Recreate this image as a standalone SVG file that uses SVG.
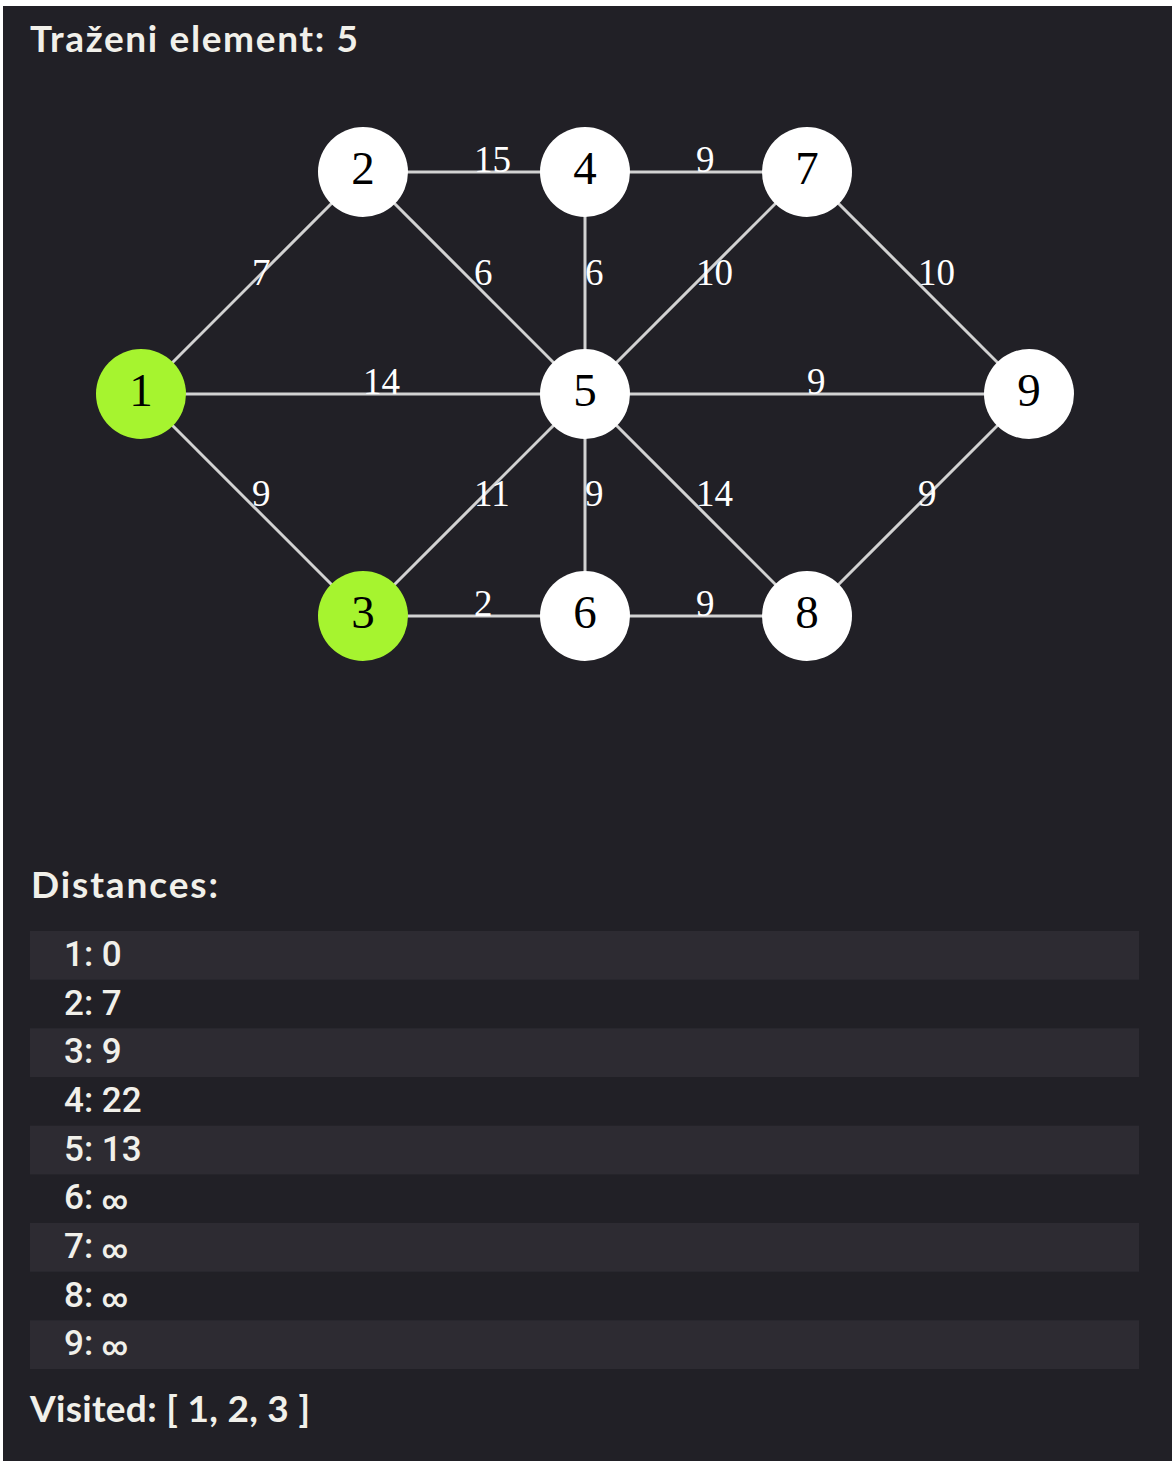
<svg xmlns="http://www.w3.org/2000/svg" width="1172" height="1461" viewBox="0 0 1172 1461">
  <style>
    .bg { fill: #212026; }
    .stripe { fill: #2d2b32; }
    .edge { stroke: #d2d2d2; stroke-width: 3; fill: none; }
    .node { fill: #ffffff; }
    .node.visited { fill: #a6f42f; }
    .nlabel { font-family: "Liberation Serif", "Times New Roman", serif; font-size: 47px; fill: #000000; text-anchor: middle; }
    .elabel { font-family: "Liberation Serif", "Times New Roman", serif; font-size: 37px; fill: #ffffff; }
    .head { font-family: "Lato", "Noto Sans", sans-serif; font-size: 37px; font-weight: 700; fill: #f1f0ea; }
    .row { font-family: "Roboto", "Noto Sans", sans-serif; font-size: 35px; font-weight: 500; fill: #f1f0ea; }
    .inf { font-size: 25px; font-weight: 700; }
  </style>
  <rect x="0" y="0" width="1172" height="1461" fill="#ffffff"/>
  <rect class="bg" x="3" y="6" width="1169" height="1455"/>

  <text class="head" x="30" y="52" textLength="328">Traženi element: 5</text>

  <g id="connectors">
    <line class="edge" x1="141" y1="394" x2="363" y2="172"/>
    <line class="edge" x1="141" y1="394" x2="585" y2="394"/>
    <line class="edge" x1="141" y1="394" x2="363" y2="616"/>
    <line class="edge" x1="363" y1="172" x2="585" y2="172"/>
    <line class="edge" x1="363" y1="172" x2="585" y2="394"/>
    <line class="edge" x1="585" y1="172" x2="807" y2="172"/>
    <line class="edge" x1="585" y1="172" x2="585" y2="394"/>
    <line class="edge" x1="807" y1="172" x2="585" y2="394"/>
    <line class="edge" x1="807" y1="172" x2="1029" y2="394"/>
    <line class="edge" x1="585" y1="394" x2="1029" y2="394"/>
    <line class="edge" x1="585" y1="394" x2="363" y2="616"/>
    <line class="edge" x1="585" y1="394" x2="585" y2="616"/>
    <line class="edge" x1="585" y1="394" x2="807" y2="616"/>
    <line class="edge" x1="1029" y1="394" x2="807" y2="616"/>
    <line class="edge" x1="363" y1="616" x2="585" y2="616"/>
    <line class="edge" x1="585" y1="616" x2="807" y2="616"/>
    <text class="elabel" x="252" y="285">7</text>
    <text class="elabel" x="363" y="394">14</text>
    <text class="elabel" x="252" y="506">9</text>
    <text class="elabel" x="474" y="172">15</text>
    <text class="elabel" x="474" y="285">6</text>
    <text class="elabel" x="696" y="172">9</text>
    <text class="elabel" x="585" y="285">6</text>
    <text class="elabel" x="696" y="285">10</text>
    <text class="elabel" x="918" y="285">10</text>
    <text class="elabel" x="807" y="394">9</text>
    <text class="elabel" x="474" y="506">11</text>
    <text class="elabel" x="585" y="506">9</text>
    <text class="elabel" x="696" y="506">14</text>
    <text class="elabel" x="918" y="506">9</text>
    <text class="elabel" x="474" y="616">2</text>
    <text class="elabel" x="696" y="616">9</text>
  </g>

  <g id="node-1"><circle class="node visited" cx="141" cy="394" r="45"/><text class="nlabel" x="141" y="406">1</text></g>
  <g id="node-2"><circle class="node" cx="363" cy="172" r="45"/><text class="nlabel" x="363" y="184">2</text></g>
  <g id="node-3"><circle class="node visited" cx="363" cy="616" r="45"/><text class="nlabel" x="363" y="628">3</text></g>
  <g id="node-4"><circle class="node" cx="585" cy="172" r="45"/><text class="nlabel" x="585" y="184">4</text></g>
  <g id="node-5"><circle class="node" cx="585" cy="394" r="45"/><text class="nlabel" x="585" y="406">5</text></g>
  <g id="node-6"><circle class="node" cx="585" cy="616" r="45"/><text class="nlabel" x="585" y="628">6</text></g>
  <g id="node-7"><circle class="node" cx="807" cy="172" r="45"/><text class="nlabel" x="807" y="184">7</text></g>
  <g id="node-8"><circle class="node" cx="807" cy="616" r="45"/><text class="nlabel" x="807" y="628">8</text></g>
  <g id="node-9"><circle class="node" cx="1029" cy="394" r="45"/><text class="nlabel" x="1029" y="406">9</text></g>

  <text class="head" x="31" y="898" textLength="187">Distances:</text>
  <g id="distances">
    <rect class="stripe" x="30" y="931" width="1109" height="48.7"/>
    <rect class="stripe" x="30" y="1028.3" width="1109" height="48.7"/>
    <rect class="stripe" x="30" y="1125.7" width="1109" height="48.7"/>
    <rect class="stripe" x="30" y="1223" width="1109" height="48.7"/>
    <rect class="stripe" x="30" y="1320.3" width="1109" height="48.7"/>
    <text class="row" x="64" y="966">1: 0</text>
    <text class="row" x="64" y="1014.7">2: 7</text>
    <text class="row" x="64" y="1063.3">3: 9</text>
    <text class="row" x="64" y="1112">4: 22</text>
    <text class="row" x="64" y="1160.7">5: 13</text>
    <text class="row" x="64" y="1209.3">6: <tspan class="inf">∞</tspan></text>
    <text class="row" x="64" y="1258">7: <tspan class="inf">∞</tspan></text>
    <text class="row" x="64" y="1306.7">8: <tspan class="inf">∞</tspan></text>
    <text class="row" x="64" y="1355.3">9: <tspan class="inf">∞</tspan></text>
  </g>
  <text class="head" x="30" y="1422" textLength="280">Visited: [ 1, 2, 3 ]</text>
</svg>
